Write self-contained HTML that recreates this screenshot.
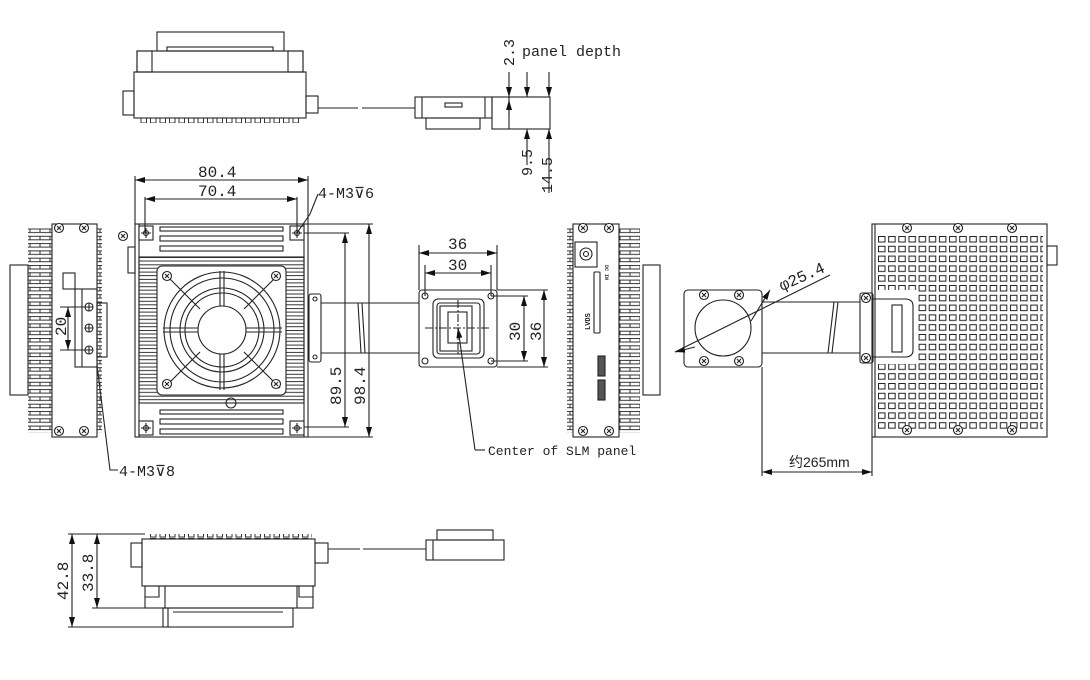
<!DOCTYPE html>
<html><head><meta charset="utf-8"><style>
body{margin:0;background:#fff}
svg{display:block}
text{font-family:"Liberation Mono","DejaVu Sans Mono",monospace;fill:#222;font-size:14px}
</style></head><body>
<svg width="1090" height="680" viewBox="0 0 1090 680" xmlns="http://www.w3.org/2000/svg">
<defs>
<marker id="a" viewBox="0 0 10 6" refX="10" refY="3" markerWidth="10" markerHeight="6" orient="auto-start-reverse" markerUnits="userSpaceOnUse"><path d="M0,0L10,3L0,6z" fill="#111"/></marker>
<pattern id="sq" x="878" y="236" width="10.15" height="9.8" patternUnits="userSpaceOnUse"><rect x="0.5" y="0.5" width="6.5" height="5.5" fill="none" stroke="#222" stroke-width="1"/></pattern>
<pattern id="fin" x="0" y="257" width="10" height="7.3" patternUnits="userSpaceOnUse"><line x1="0" y1="0.5" x2="10" y2="0.5" stroke="#333" stroke-width="1"/><line x1="0" y1="4" x2="10" y2="4" stroke="#333" stroke-width="1"/></pattern>
<pattern id="fin2" x="0" y="228" width="10" height="7.3" patternUnits="userSpaceOnUse"><rect x="0" y="1" width="10" height="3.5" fill="none" stroke="#333" stroke-width="1"/></pattern>
<pattern id="fins" x="140" y="118" width="9.5" height="6" patternUnits="userSpaceOnUse"><rect x="1" y="0" width="5.5" height="5" fill="none" stroke="#333"/></pattern>
<g id="scr"><circle r="4.5" fill="#fff" stroke="#222"/><path d="M-2,-2L2,2M2,-2L-2,2" stroke="#222"/></g>
<g id="mh"><rect x="-7" y="-7" width="14" height="14" fill="#fff" stroke="#222"/><circle r="2.5" fill="none" stroke="#222"/><path d="M-5,0H5M0,-5V5" stroke="#222"/></g>
</defs>
<g fill="none" stroke="#222" stroke-width="1.1">
<!-- TOP VIEW -->
<rect x="157" y="32" width="127" height="19"/>
<rect x="167" y="47" width="106" height="4"/>
<rect x="137" y="51" width="166" height="21"/>
<rect x="137" y="51" width="15" height="21"/><rect x="288" y="51" width="15" height="21"/>
<rect x="134" y="72" width="172" height="46"/>
<rect x="140" y="118" width="162" height="5" fill="url(#fins)" stroke="none"/>
<rect x="123" y="91" width="11" height="24"/>
<rect x="306" y="96" width="12" height="17"/>
<path d="M318,108H358M362,108H415"/>
<rect x="415" y="97" width="77" height="21"/>
<path d="M422,97V118M485,97V118"/>
<rect x="445" y="103" width="17" height="4"/>
<rect x="426" y="118" width="54" height="11"/>
<rect x="492" y="97" width="58" height="32"/>
<path d="M509,72V97" marker-end="url(#a)"/>
<path d="M509,129V97"/><path d="M509,118V100" marker-end="url(#a)"/>
<path d="M527,72V97" marker-end="url(#a)"/><path d="M527,165V129" marker-end="url(#a)"/>
<path d="M549,72V97" marker-end="url(#a)"/><path d="M549,193V129" marker-end="url(#a)"/>

<!-- FRONT VIEW -->
<rect x="135" y="224" width="173" height="213"/>
<path d="M139,224V437M304,224V437"/>
<rect x="139" y="257" width="165" height="146" fill="url(#fin)"/>
<rect x="160" y="227" width="123" height="4"/><rect x="160" y="236" width="123" height="5"/><rect x="160" y="246" width="123" height="5"/>
<rect x="160" y="410" width="123" height="4"/><rect x="160" y="419" width="123" height="5"/><rect x="160" y="429" width="123" height="5"/>
<rect x="157" y="266" width="129" height="129" rx="5" fill="#fff"/>
<circle cx="222" cy="330" r="58"/><circle cx="222" cy="330" r="52"/>
<circle cx="222" cy="330" r="42"/><circle cx="222" cy="330" r="37"/>
<circle cx="222" cy="330" r="24"/>
<path d="M164,273L200,309M280,273L244,309M164,388L200,352M280,388L244,352M220,271V306M224,271V306M220,354V390M224,354V390M163,328H198M163,332H198M246,328H282M246,332H282"/>
<circle cx="231" cy="403" r="5"/>
<rect x="128" y="247" width="7" height="26"/>
<use href="#scr" x="123" y="236"/>
<use href="#scr" x="167" y="276"/><use href="#scr" x="276" y="276"/><use href="#scr" x="167" y="384"/><use href="#scr" x="276" y="384"/>
<use href="#mh" x="146" y="233"/><use href="#mh" x="297" y="233"/><use href="#mh" x="146" y="428"/><use href="#mh" x="297" y="428"/>
<path d="M135,224V176M308,224V176M145,233V197M297,233V197"/>
<path d="M135,180H308" marker-start="url(#a)" marker-end="url(#a)"/>
<path d="M145,199H297" marker-start="url(#a)" marker-end="url(#a)"/>
<path d="M297,233L310,214L318,194"/>
<path d="M304,233H349M304,427H349M308,224H373M308,437H373"/>
<path d="M345,233V427" marker-start="url(#a)" marker-end="url(#a)"/>
<path d="M369,224V437" marker-start="url(#a)" marker-end="url(#a)"/>
<rect x="309" y="294" width="12" height="68" rx="2"/>
<circle cx="315" cy="299" r="2"/><circle cx="315" cy="357" r="2"/>
<path d="M321,303H419M321,353H419M358,303L361,353M362,303L365,353"/>

<!-- SLM HEAD -->
<rect x="419" y="290" width="78" height="77" rx="3"/>
<rect x="433" y="299" width="51" height="59" rx="5"/>
<rect x="437" y="303" width="43" height="51" rx="3"/>
<rect x="440" y="306" width="32" height="45"/>
<rect x="448" y="312" width="19" height="31"/>
<path d="M425,328H491M458,300V356" stroke-dasharray="8,2,2,2"/>
<circle cx="425" cy="296" r="3"/><circle cx="491" cy="296" r="3"/><circle cx="425" cy="361" r="3"/><circle cx="491" cy="361" r="3"/>
<path d="M419,290V245M497,290V245M425,296V265M491,296V265"/>
<path d="M419,253H497" marker-start="url(#a)" marker-end="url(#a)"/>
<path d="M425,273H491" marker-start="url(#a)" marker-end="url(#a)"/>
<path d="M491,296H528M491,361H528M497,290H548M497,367H548"/>
<path d="M524,296V361" marker-start="url(#a)" marker-end="url(#a)"/>
<path d="M544,290V367" marker-start="url(#a)" marker-end="url(#a)"/>
<path d="M475,450L458,328" marker-end="url(#a)"/><path d="M475,450H485"/>

<!-- LEFT VIEW -->
<rect x="28" y="228" width="24" height="205" fill="url(#fin2)" stroke="none"/>
<rect x="97" y="228" width="5" height="205" fill="url(#fin2)" stroke="none"/>
<rect x="52" y="224" width="45" height="213"/>
<rect x="10" y="265" width="18" height="130"/>
<rect x="63" y="273" width="12" height="16"/>
<rect x="75" y="289" width="22" height="78"/><path d="M82,289V367"/>
<rect x="97" y="303" width="10" height="54"/>
<circle cx="89" cy="307" r="4"/><circle cx="89" cy="328" r="4"/><circle cx="89" cy="350" r="4"/>
<path d="M85,307H93M89,303V311M85,328H93M89,324V332M85,350H93M89,346V354"/>
<use href="#scr" x="59" y="228"/><use href="#scr" x="84" y="228"/><use href="#scr" x="59" y="431"/><use href="#scr" x="84" y="431"/>
<path d="M60,307H85M60,350H85"/>
<path d="M68,307V350" marker-start="url(#a)" marker-end="url(#a)"/>
<path d="M97,365L110,470H118"/>

<!-- SIDE VIEW SLM panel -->
<rect x="567" y="228" width="6" height="205" fill="url(#fin2)" stroke="none"/>
<rect x="619" y="228" width="21" height="205" fill="url(#fin2)" stroke="none"/>
<rect x="573" y="224" width="46" height="213"/>
<rect x="643" y="265" width="17" height="130"/>
<rect x="575" y="242" width="22" height="25"/><circle cx="586" cy="254" r="6"/><circle cx="586" cy="254" r="2.5"/>
<rect x="594" y="272" width="6" height="61" rx="1"/>
<rect x="598" y="356" width="7" height="20" fill="#555"/><rect x="598" y="380" width="7" height="20" fill="#555"/>
<use href="#scr" x="583" y="228"/><use href="#scr" x="609" y="228"/><use href="#scr" x="583" y="431"/><use href="#scr" x="609" y="431"/>

<!-- RIGHT HEAD + BOX -->
<rect x="684" y="290" width="78" height="77" rx="4"/>
<circle cx="723" cy="328" r="28"/>
<use href="#scr" x="704" y="295"/><use href="#scr" x="739" y="295"/><use href="#scr" x="704" y="361"/><use href="#scr" x="739" y="361"/>
<path d="M762,302H860M762,353H860M834,302L828,353M838,302L832,353"/>
<rect x="872" y="224" width="175" height="213"/><path d="M875,224V437"/>
<rect x="878" y="236" width="165" height="196" fill="url(#sq)" stroke="none"/>
<rect x="876" y="290" width="42" height="74" fill="#fff" stroke="none"/>
<rect x="1047" y="246" width="10" height="19"/>
<rect x="860" y="293" width="13" height="70" rx="2"/>
<path d="M873,299H905Q913,299 913,306V350Q913,357 905,357H873"/>
<rect x="892" y="305" width="10" height="47"/>
<use href="#scr" x="866" y="298"/><use href="#scr" x="866" y="358"/>
<use href="#scr" x="907" y="228"/><use href="#scr" x="958" y="228"/><use href="#scr" x="1012" y="228"/>
<use href="#scr" x="907" y="430"/><use href="#scr" x="958" y="430"/><use href="#scr" x="1012" y="430"/>
<path d="M675,352L695,347" marker-start="url(#a)"/>
<path d="M751,321L770,290" marker-end="url(#a)"/>
<path d="M675,352L830,275"/>
<path d="M762,367V476M872,437V476"/>
<path d="M762,472H872" marker-start="url(#a)" marker-end="url(#a)"/>

<!-- BOTTOM VIEW -->
<rect x="147" y="534" width="165" height="5" fill="url(#fins)" stroke="none"/>
<rect x="142" y="539" width="173" height="47"/>
<rect x="145" y="586" width="168" height="22"/>
<path d="M165,586V608M297,586V608M145,597H159V586M299,586V597H313"/>
<rect x="163" y="608" width="130" height="19"/><path d="M168,608V627M173,612H283"/>
<rect x="131" y="543" width="11" height="24"/>
<rect x="315" y="543" width="13" height="20"/>
<path d="M328,549H360M363,549H426"/>
<rect x="426" y="540" width="78" height="20"/><path d="M433,540V560"/>
<rect x="437" y="530" width="56" height="10"/>
<path d="M145,534H68M145,608H92M163,627H68"/>
<path d="M72,534V627" marker-start="url(#a)" marker-end="url(#a)"/>
<path d="M97,534V608" marker-start="url(#a)" marker-end="url(#a)"/>
</g>

<!-- TEXT -->
<text x="522" y="56" style="font-size:15px">panel depth</text>
<text transform="translate(514,66) rotate(-90)" style="font-size:15px">2.3</text>
<text transform="translate(532,176) rotate(-90)" style="font-size:15px">9.5</text>
<text transform="translate(552,193) rotate(-90)" style="font-size:15px">14.5</text>
<text x="198" y="177" style="font-size:16px">80.4</text>
<text x="198" y="196" style="font-size:16px">70.4</text>
<text x="318" y="198" style="font-size:15px">4-M3<tspan style="font-family:'DejaVu Sans',sans-serif">⊽</tspan>6</text>
<text transform="translate(341,405) rotate(-90)" style="font-size:16px">89.5</text>
<text transform="translate(365,405) rotate(-90)" style="font-size:16px">98.4</text>
<text x="448" y="249" style="font-size:16px">36</text>
<text x="448" y="270" style="font-size:16px">30</text>
<text transform="translate(520,341) rotate(-90)" style="font-size:16px">30</text>
<text transform="translate(541,341) rotate(-90)" style="font-size:16px">36</text>
<text x="488" y="455" style="font-size:13px">Center of SLM panel</text>
<text transform="translate(66,336) rotate(-90)" style="font-size:16px">20</text>
<text x="119" y="476" style="font-size:15px">4-M3<tspan style="font-family:'DejaVu Sans',sans-serif">⊽</tspan>8</text>
<text transform="translate(782,291) rotate(-24)" style="font-size:16px">φ25.4</text>
<text x="789" y="467" style="font-family:'Liberation Sans','Noto Sans CJK SC',sans-serif;font-size:14px">约265mm</text>
<text transform="translate(68,600) rotate(-90)" style="font-size:16px">42.8</text>
<text transform="translate(93,592) rotate(-90)" style="font-size:16px">33.8</text>
<text transform="translate(590,330) rotate(-90)" style="font-size:7px;font-weight:bold">LVDS</text>
<text transform="translate(605,265) rotate(90)" style="font-size:5px;font-weight:bold">DC IN</text>
</svg>
</body></html>
